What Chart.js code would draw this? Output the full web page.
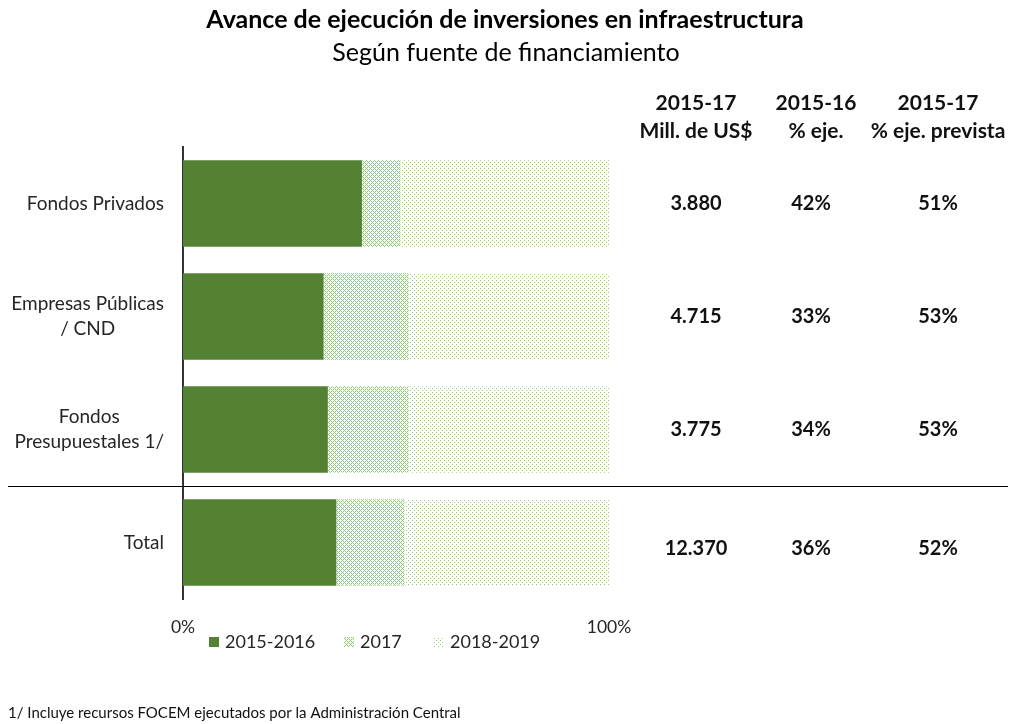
<!DOCTYPE html>
<html>
<head>
<meta charset="utf-8">
<script src="https://cdn.jsdelivr.net/npm/chart.js@4"></script>
<style>
  body { margin: 0; background: #fff; }
</style>
</head>
<body>
<canvas id="chart" width="1013" height="724"></canvas>
<script>
// data
const categories = ["Fondos Privados", ["Empresas Públicas", "/ CND"], ["Fondos", "Presupuestales 1/"], "Total"];
const exec1516 = [42, 33, 34, 36];
const exec2017 = [9, 20, 19, 16];
const exec1819 = [49, 47, 47, 48];
const millUSD = ["3.880", "4.715", "3.775", "12.370"];
const pctEje = ["42%", "33%", "34%", "36%"];
const pctPrevista = ["51%", "53%", "53%", "52%"];
const seriesNames = ["2015-2016", "2017", "2018-2019"];
const xTicks = [0, 100];

const FONT = "Lato, 'Open Sans', sans-serif";
const GREEN = "#548235";
const LIGHT = "#8ccf6c";

const ctx = document.getElementById("chart").getContext("2d");

// small pixel patterns like the excel fills
function makePattern(cells, size) {
  const c = document.createElement("canvas");
  c.width = size;
  c.height = size;
  const g = c.getContext("2d");
  g.fillStyle = "#fff";
  g.fillRect(0, 0, size, size);
  g.fillStyle = LIGHT;
  cells.forEach(([x, y]) => g.fillRect(x, y, 1, 1));
  return ctx.createPattern(c, "repeat");
}
const densePattern = makePattern([[2, 0], [1, 1], [3, 1], [0, 2], [1, 3], [3, 3]], 4);
const sparsePattern = makePattern([[0, 0], [2, 2]], 4);
const fills = [GREEN, densePattern, sparsePattern];

// ============================
// EXTRA TEXT / TABLE PLUGIN
// ============================
const decorations = {
  id: "decorations",
  afterDraw(chart) {
    const c = chart.ctx;
    const y = chart.scales.y;
    c.save();

    // title
    c.fillStyle = "#000";
    c.textAlign = "center";
    c.textBaseline = "middle";
    c.font = "bold 25px " + FONT;
    c.fillText("Avance de ejecución de inversiones en infraestructura", 505, 20);
    c.font = "25px " + FONT;
    c.fillText("Según fuente de financiamiento", 506, 53);

    // table header
    c.font = "bold 21px " + FONT;
    c.fillStyle = "#111";
    const cols = [696, 816, 938];
    const heads = [["2015-17", "Mill. de US$"], ["2015-16", "% eje."], ["2015-17", "% eje. prevista"]];
    heads.forEach((h, i) => {
      c.fillText(h[0], cols[i], 103);
      c.fillText(h[1], cols[i], 131);
    });

    // table values
    c.font = "bold 20px " + FONT;
    categories.forEach((cat, i) => {
      const py = y.getPixelForValue(i) + (i === 3 ? 6 : 0);
      c.fillText(millUSD[i], cols[0], py);
      c.fillText(pctEje[i], cols[1] - 5, py);
      c.fillText(pctPrevista[i], cols[2], py);
    });

    // category labels: block right aligned, lines centred
    c.font = "19px " + FONT;
    c.fillStyle = "#262626";
    categories.forEach((cat, i) => {
      const lines = Array.isArray(cat) ? cat : [cat];
      const maxW = Math.max(...lines.map((l) => c.measureText(l).width));
      const cx = 164 - maxW / 2;
      const lh = 25;
      const py = y.getPixelForValue(i) - ((lines.length - 1) * lh) / 2;
      lines.forEach((l, k) => c.fillText(l, cx, py + k * lh));
    });

    // separator above Total
    const sep = Math.round((y.getPixelForValue(2) + y.getPixelForValue(3)) / 2) + 0.5;
    c.strokeStyle = "#000";
    c.lineWidth = 1;
    c.beginPath();
    c.moveTo(8, sep);
    c.lineTo(1008, sep);
    c.stroke();

    // legend
    c.textAlign = "left";
    c.font = "18px " + FONT;
    const legendX = [209, 344, 434];
    seriesNames.forEach((name, i) => {
      c.fillStyle = fills[i];
      c.fillRect(legendX[i], 637, 10, 10);
      c.fillStyle = "#262626";
      c.fillText(name, legendX[i] + 16, 642);
    });

    // footnote
    c.font = "15px " + FONT;
    c.fillStyle = "#111";
    c.fillText("1/ Incluye recursos FOCEM ejecutados por la Administración Central", 8, 713);

    c.restore();
  },
};

new Chart(ctx, {
  type: "bar",
  data: {
    labels: categories,
    datasets: [
      { label: seriesNames[0], data: exec1516, backgroundColor: fills[0] },
      { label: seriesNames[1], data: exec2017, backgroundColor: fills[1] },
      { label: seriesNames[2], data: exec1819, backgroundColor: fills[2] },
    ],
  },
  options: {
    responsive: false,
    animation: false,
    indexAxis: "y",
    layout: { padding: { top: 147, right: 404, bottom: 68, left: 0 } },
    datasets: { bar: { categoryPercentage: 1, barPercentage: 0.765, borderWidth: 0 } },
    scales: {
      x: {
        stacked: true,
        min: 0,
        max: 100,
        afterBuildTicks: (scale) => {
          scale.ticks = xTicks.map((v) => ({ value: v }));
        },
        grid: { display: false, drawTicks: false },
        border: { display: false },
        ticks: {
          padding: 18,
          color: "#262626",
          font: { family: FONT, size: 17.5 },
          callback: (v) => v + "%",
        },
      },
      y: {
        stacked: true,
        afterFit: (scale) => {
          scale.width = 183;
        },
        grid: { display: false, drawTicks: false },
        border: { display: true, color: "#333", width: 2 },
        ticks: { display: false },
      },
    },
    plugins: {
      legend: { display: false },
      tooltip: { enabled: false },
    },
  },
  plugins: [decorations],
});
</script>
</body>
</html>
